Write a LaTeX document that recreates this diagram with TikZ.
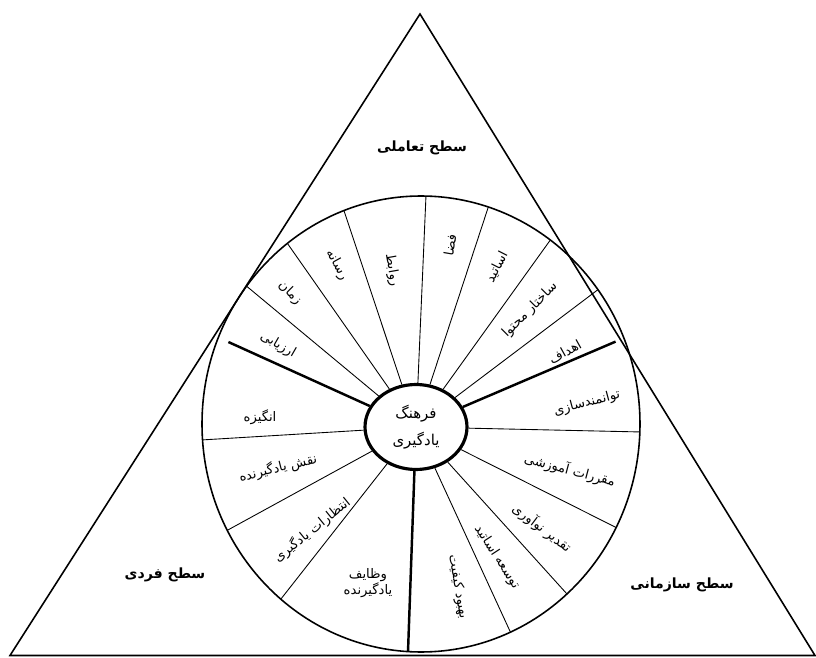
\documentclass[tikz,border=0pt]{standalone}
\usepackage{fontspec}
\usetikzlibrary{calc, shapes.geometric}
\TeXXeTstate=1
\newfontfamily\arabicfont[Script=Arabic]{DejaVu Sans}
\newcommand{\fa}[1]{\beginR #1\endR}

\begin{document}
\begin{tikzpicture}[x=0.02cm, y=0.02cm,
        lvl/.style = {font=\arabicfont\bfseries\fontsize{8}{10}\selectfont},
        seg/.style = {font=\arabicfont\fontsize{7.5}{9}\selectfont, inner sep=1pt},
        hub/.style = {draw, ellipse, line width=1.8pt, minimum width=2.04cm, minimum height=1.7cm,
                      fill=white, align=center, font=\arabicfont\fontsize{8.5}{15}\selectfont},
        rim/.style = {line width=0.9pt},
        sp/.style  = {line width=0.5pt},
        spk/.style = {line width=1.4pt}
    ]
        \useasboundingbox (0,0) rectangle (816,657);

        % triangle of the three levels
        \coordinate (apex) at (420,643);
        \coordinate (bl)   at (10,1.5);
        \coordinate (br)   at (815,1.5);
        \draw[rim] (apex) -- (bl) -- (br) -- cycle;

        % wheel
        \coordinate (ring) at (421,233);
        \draw[rim] (ring) ellipse [x radius=219, y radius=228];

        \node[hub] (hub) at (416,230) {\fa{فرهنگ}\\\fa{یادگیری}};

        % thin spokes
        \foreach \a [count=\i] in {142.8,127.6,110.6,88.7,72.1,53.8,36.1,-2,-27,-48.2,-65.9,230.2,207.8,184}
            \coordinate (s\i) at ($(ring)+(\a:219 and 228)$);
        \foreach \i in {1,...,14}
            \draw[sp] (hub) -- (s\i);

        % thick spokes
        \coordinate (k1) at ($(ring)+(157.8:208 and 217)$);
        \coordinate (k2) at ($(ring)+(22.1:210 and 219)$);
        \coordinate (k3) at ($(ring)+(-93.4:219 and 228)$);
        \foreach \i in {1,2,3}
            \draw[spk] (hub) -- (k\i);

        % segment labels
        \node[seg, rotate=-30] (t1)  at (278,312) {\fa{ارزیابی}};
        \node[seg, rotate=-45] (t2)  at (290,364) {\fa{زمان}};
        \node[seg, rotate=-61] (t3)  at (337,392) {\fa{رسانه}};
        \node[seg, rotate=-80] (t4)  at (392,387) {\fa{روابط}};
        \node[seg, rotate=80]  (t5)  at (450,412) {\fa{فضا}};
        \node[seg, rotate=63]  (t6)  at (497,390) {\fa{اساتید}};
        \node[seg, rotate=45]  (t7)  at (530,347) {\fa{ساختار محتوا}};
        \node[seg, rotate=29]  (t8)  at (565,305) {\fa{اهداف}};
        \node[seg, rotate=15]  (t9)  at (587,254) {\fa{توانمندسازی}};
        \node[seg, rotate=-15] (t10) at (570,187) {\fa{مقررات آموزشی}};
        \node[seg, rotate=-37] (t11) at (542,129) {\fa{تقدیر نوآوری}};
        \node[seg, rotate=-57] (t12) at (497,100) {\fa{توسعه اساتید}};
        \node[seg, rotate=-80] (t13) at (458,70)  {\fa{بهبود کیفیت}};
        \node[seg, align=center] (t14) at (368,74) {\fa{وظایف}\\\fa{یادگیرنده}};
        \node[seg, rotate=39]  (t15) at (312,127) {\fa{انتظارات یادگیری}};
        \node[seg, rotate=14]  (t16) at (278,189) {\fa{نقش یادگیرنده}};
        \node[seg]             (t17) at (260,240) {\fa{انگیزه}};

        % levels
        \node[lvl] (top)   at (422,509) {\fa{سطح تعاملی}};
        \node[lvl] (left)  at (165,82)  {\fa{سطح فردی}};
        \node[lvl] (right) at (682,72)  {\fa{سطح سازمانی}};
    \end{tikzpicture}
\end{document}
